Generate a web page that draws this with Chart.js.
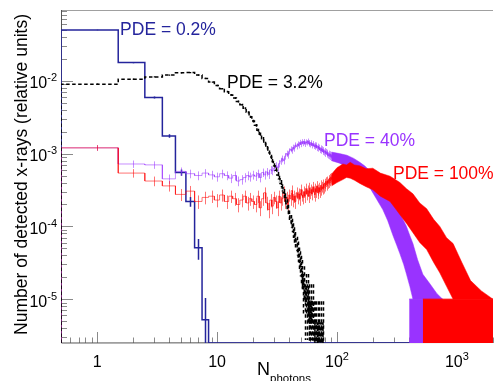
<!DOCTYPE html>
<html>
<head>
<meta charset="utf-8">
<script src="https://cdn.jsdelivr.net/npm/chart.js@4.4.1/dist/chart.umd.min.js"></script>
<style>
  html, body { margin: 0; padding: 0; background: #fff; }
  #wrap { width: 494px; height: 381px; }
</style>
</head>
<body>
<div id="wrap"><canvas id="spectrum"></canvas></div>
<script>
const FONT = '"Liberation Sans", Arial, Helvetica, sans-serif';
const X_MIN = 0.5, X_MAX = 2000;
const Y_MIN = 2.5e-6, Y_MAX = 0.094;

const BLUE = '#24249c';
const VIOLET = '#9933ff';
const RED = '#ff0000';

// decade labels, drawn as base + superscript
const xTickValues = [1, 10, 100, 1000];
const xTickBase = ['1', '10', '10', '10'];
const xTickExp = ['', '', '2', '3'];
const yTickValues = [1e-2, 1e-3, 1e-4, 1e-5];
const yTickBase = ['10', '10', '10', '10'];
const yTickExp = ['-2', '-3', '-4', '-5'];

// PDE = 0.2% : one bin per photon count starting at N = 1
const blueVals = [0.050, 0.0178, 0.0059, 0.00175, 5.5e-4, 2.2e-4, 5.1e-5, 5.2e-6];
const blueUnit = 5.2e-6;   // weight of a single entry

// PDE = 3.2% : N = 1 .. 76
const blackVals = [
  9.0e-3, 1.05e-2, 1.13e-2, 1.20e-2, 1.29e-2, 1.30e-2, 1.20e-2, 1.08e-2, 9.6e-3, 8.6e-3,
  7.8e-3, 7.1e-3, 6.4e-3, 5.8e-3, 5.2e-3, 4.7e-3, 4.2e-3, 3.7e-3, 3.2e-3, 2.8e-3,
  2.45e-3, 2.1e-3, 1.85e-3, 1.6e-3, 1.38e-3, 1.2e-3, 1.03e-3, 9.0e-4, 7.8e-4, 6.8e-4,
  5.9e-4, 5.1e-4, 4.5e-4, 3.9e-4, 3.4e-4, 2.9e-4, 2.5e-4, 2.05e-4, 1.7e-4, 1.4e-4,
  1.2e-4, 1.05e-4, 9.0e-5, 7.8e-5, 6.6e-5, 5.6e-5, 4.7e-5, 3.8e-5, 3.3e-5, 2.8e-5,
  2.4e-5, 1.4e-5, 1.9e-5, 9.4e-6, 1.4e-5, 9.4e-6, 1.4e-5, 4.7e-6, 9.4e-6, 4.7e-6,
  9.4e-6, 4.7e-6, 9.4e-6, 4.7e-6, 0, 4.7e-6, 4.7e-6, 0, 4.7e-6, 0,
  4.7e-6, 0, 0, 4.7e-6, 0, 4.7e-6
];
const blackUnit = 4.7e-6;

// PDE = 40% : single bins N = 1 .. 90, then the spread of the dense region
const violetVals = [
  1.2e-3, 7.2e-4, 7.0e-4, 4.5e-4, 5.7e-4, 5.3e-4, 5.0e-4, 5.4e-4, 5.1e-4, 4.8e-4,
  5.3e-4, 5.0e-4, 4.6e-4, 5.0e-4, 4.2e-4, 4.4e-4, 4.7e-4, 5.0e-4, 4.8e-4, 5.1e-4,
  4.9e-4, 5.3e-4, 4.7e-4, 5.5e-4, 5.1e-4, 5.6e-4, 5.2e-4, 6.0e-4, 5.8e-4, 6.3e-4,
  6.8e-4, 6.4e-4, 7.3e-4, 7.9e-4, 8.5e-4, 8.0e-4, 9.2e-4, 1.0e-3, 9.5e-4, 1.08e-3,
  1.15e-3, 1.1e-3, 1.22e-3, 1.17e-3, 1.31e-3, 1.25e-3, 1.36e-3, 1.29e-3, 1.43e-3, 1.34e-3,
  1.46e-3, 1.38e-3, 1.47e-3, 1.35e-3, 1.45e-3, 1.41e-3, 1.49e-3, 1.36e-3, 1.42e-3, 1.33e-3,
  1.41e-3, 1.29e-3, 1.37e-3, 1.27e-3, 1.32e-3, 1.24e-3, 1.31e-3, 1.19e-3, 1.26e-3, 1.17e-3,
  1.22e-3, 1.12e-3, 1.19e-3, 1.1e-3, 1.16e-3, 1.06e-3, 1.12e-3, 1.04e-3, 1.09e-3, 1.0e-3,
  1.06e-3, 9.8e-4, 1.03e-3, 9.5e-4, 1.0e-3, 9.3e-4, 9.8e-4, 9.1e-4, 9.5e-4, 8.9e-4
];
const violetUnit = 9.7e-6;
const violetBandN  = [90, 105, 121, 138, 155, 170, 188, 210, 241, 265, 293, 315, 335, 360, 380, 405, 430, 470, 520, 600, 680, 760];
const violetBandHi = [1.05e-3, 1.0e-3, 9.5e-4, 8.6e-4, 7.6e-4, 6.8e-4, 5.8e-4, 4.6e-4, 3.5e-4, 2.7e-4, 2.05e-4,
                      1.7e-4, 1.5e-4, 1.2e-4, 1.0e-4, 7.5e-5, 5.8e-5, 3.5e-5, 2.2e-5, 1.6e-5, 1.2e-5, 1.0e-5];
const violetBandLo = [8.0e-4, 7.4e-4, 6.6e-4, 5.8e-4, 5.0e-4, 4.2e-4, 3.4e-4, 2.5e-4, 1.7e-4, 1.2e-4, 7.5e-5,
                      5.5e-5, 4.2e-5, 3.0e-5, 2.2e-5, 1.5e-5, 1.0e-5, 1.0e-5, 1.0e-5, 1.0e-5, 1.0e-5, 1.0e-5];
const violetTailN = [400, 760];
const violetTailTop = [1.0e-5, 1.0e-5];

// PDE = 100%
const redVals = [
  1.2e-3, 5.4e-4, 4.2e-4, 3.6e-4, 2.75e-4, 3.05e-4, 2.2e-4, 2.5e-4, 2.6e-4, 2.3e-4,
  2.7e-4, 2.2e-4, 2.6e-4, 2.4e-4, 2.0e-4, 2.3e-4, 2.6e-4, 2.1e-4, 2.4e-4, 2.2e-4,
  2.0e-4, 2.6e-4, 1.8e-4, 2.4e-4, 2.9e-4, 2.1e-4, 1.7e-4, 2.3e-4, 1.9e-4, 2.5e-4,
  2.2e-4, 1.8e-4, 2.6e-4, 2.1e-4, 2.4e-4, 3.0e-4, 2.2e-4, 2.5e-4, 2.0e-4, 2.7e-4,
  2.4e-4, 3.1e-4, 2.3e-4, 2.6e-4, 2.2e-4, 2.9e-4, 2.5e-4, 2.8e-4, 2.4e-4, 3.2e-4,
  2.7e-4, 2.5e-4, 3.0e-4, 2.6e-4, 3.3e-4, 2.8e-4, 3.1e-4, 2.6e-4, 3.4e-4, 2.9e-4,
  3.2e-4, 2.8e-4, 3.5e-4, 3.0e-4, 2.7e-4, 3.3e-4, 3.0e-4, 3.6e-4, 2.9e-4, 3.2e-4,
  3.4e-4, 3.0e-4, 3.7e-4, 3.2e-4, 3.5e-4, 3.3e-4, 3.8e-4, 3.4e-4, 3.9e-4, 3.6e-4,
  4.1e-4, 3.7e-4, 4.2e-4, 3.9e-4, 4.4e-4, 4.0e-4, 4.6e-4, 4.2e-4, 4.7e-4, 4.4e-4
];
const redUnit = 9.7e-6;
const redBandN  = [90, 100, 112, 120, 129, 140, 155, 175, 199, 230, 277, 300, 335, 380, 430, 490, 560, 640, 720, 820, 930, 1100, 1300, 1600, 2000];
const redBandHi = [5.2e-4, 6.4e-4, 7.2e-4, 7.0e-4, 7.6e-4, 7.0e-4, 6.8e-4, 6.2e-4, 6.3e-4, 5.4e-4, 4.9e-4, 4.5e-4, 4.0e-4,
                   3.3e-4, 2.8e-4, 2.1e-4, 1.75e-4, 1.25e-4, 1.0e-4, 7.0e-5, 5.8e-5, 3.2e-5, 1.8e-5, 1.3e-5, 1.0e-5];
const redBandLo = [3.6e-4, 4.0e-4, 4.4e-4, 4.7e-4, 4.6e-4, 4.3e-4, 3.9e-4, 3.5e-4, 3.2e-4, 2.6e-4, 2.2e-4, 1.85e-4, 1.45e-4,
                   1.1e-4, 8.2e-5, 6.0e-5, 4.8e-5, 3.2e-5, 2.3e-5, 1.5e-5, 1.0e-5, 1.0e-5, 1.0e-5, 1.0e-5, 1.0e-5];
const redTailN = [520, 2000];
const redTailTop = [1.0e-5, 1.0e-5];

const annotations = [
  { text: 'PDE = 0.2%', color: BLUE,   x: 1.555, y: 0.0427 },
  { text: 'PDE = 3.2%', color: '#000', x: 12.1,  y: 8.0e-3 },
  { text: 'PDE = 40%',  color: VIOLET, x: 78,    y: 1.29e-3 },
  { text: 'PDE = 100%', color: RED,    x: 293,   y: 4.55e-4 }
];

// histogram outline: bins of unit width centred on integers, empty bins sit on the axis
function binSteps(vals, closeTo) {
  const pts = [{ x: 0.5, y: Y_MIN }];
  vals.forEach((v, i) => {
    const y = v > 0 ? v : Y_MIN;
    pts.push({ x: i + 0.5, y: y }, { x: i + 1.5, y: y });
  });
  if (closeTo) {
    pts.push({ x: vals.length + 0.5, y: Y_MIN }, { x: closeTo, y: Y_MIN });
  }
  return pts;
}

function curve(ns, vals) {
  return ns.map((n, i) => ({ x: n, y: vals[i] }));
}

const line = { showLine: true, pointRadius: 0, pointHoverRadius: 0, tension: 0 };

const datasets = [
  Object.assign({}, line, { data: curve(violetBandN, violetBandHi), fill: '+1',
    backgroundColor: VIOLET, borderColor: 'rgba(153,51,255,0.5)', borderWidth: 1, order: 6 }),
  Object.assign({}, line, { data: curve(violetBandN, violetBandLo), fill: false,
    borderColor: 'rgba(153,51,255,0.5)', borderWidth: 1, order: 6 }),
  Object.assign({}, line, { data: curve(violetTailN, violetTailTop), fill: 'start',
    backgroundColor: VIOLET, borderColor: VIOLET, borderWidth: 1, order: 6 }),
  Object.assign({}, line, { data: binSteps(violetVals), fill: false,
    borderColor: 'rgba(153,51,255,0.55)', borderWidth: 1, order: 5,
    errBins: { vals: violetVals, unit: violetUnit } }),

  Object.assign({}, line, { data: curve(redBandN, redBandHi), fill: '+1',
    backgroundColor: RED, borderColor: 'rgba(255,0,0,0.5)', borderWidth: 1, order: 4 }),
  Object.assign({}, line, { data: curve(redBandN, redBandLo), fill: false,
    borderColor: 'rgba(255,0,0,0.5)', borderWidth: 1, order: 4 }),
  Object.assign({}, line, { data: curve(redTailN, redTailTop), fill: 'start',
    backgroundColor: RED, borderColor: RED, borderWidth: 1, order: 4 }),
  Object.assign({}, line, { data: binSteps(redVals), fill: false,
    borderColor: 'rgba(255,0,0,0.55)', borderWidth: 1, order: 3,
    errBins: { vals: redVals, unit: redUnit } }),

  Object.assign({}, line, { data: binSteps(blackVals, blackVals.length + 0.5), fill: false,
    borderColor: '#000', borderWidth: 1.5, borderDash: [3.5, 2.5], order: 2,
    errBins: { vals: blackVals, unit: blackUnit } }),

  Object.assign({}, line, { data: binSteps(blueVals, X_MAX), fill: false,
    borderColor: BLUE, borderWidth: 1.5, order: 7,
    errBins: { vals: blueVals, unit: blueUnit } })
];

// statistical error bars at the bin centres
const errorBars = {
  id: 'errorBars',
  afterDatasetDraw(chart, args) {
    const ds = chart.data.datasets[args.index];
    if (!ds.errBins) return;
    const xs = chart.scales.x, ys = chart.scales.y, area = chart.chartArea;
    const ctx = chart.ctx;
    ctx.save();
    ctx.beginPath();
    ctx.rect(area.left, area.top, area.right - area.left, area.bottom - area.top);
    ctx.clip();
    ctx.strokeStyle = ds.borderColor;
    ctx.lineWidth = ds.borderWidth;
    ctx.setLineDash(ds.borderDash || []);
    ctx.beginPath();
    ds.errBins.vals.forEach((v, i) => {
      if (v <= 0) return;
      const err = Math.sqrt(v * ds.errBins.unit);
      const px = Math.round(xs.getPixelForValue(i + 1)) + 0.5;
      const top = ys.getPixelForValue(v + err);
      const bot = v - err > Y_MIN ? ys.getPixelForValue(v - err) : area.bottom;
      ctx.moveTo(px, top);
      ctx.lineTo(px, bot);
    });
    ctx.stroke();
    ctx.restore();
  }
};

function logTicks(min, max) {
  const out = [];
  for (let d = Math.floor(Math.log10(min)); d <= Math.ceil(Math.log10(max)); d++) {
    for (let m = 1; m <= 9; m++) {
      const v = m * Math.pow(10, d);
      if (v >= min && v <= max) out.push({ v: v, major: m === 1 });
    }
  }
  return out;
}

// frame and inward ticks
const frame = {
  id: 'frame',
  beforeDatasetsDraw(chart) {
    const ctx = chart.ctx, a = chart.chartArea;
    const xs = chart.scales.x, ys = chart.scales.y;
    ctx.save();
    ctx.lineWidth = 1;
    ctx.strokeStyle = '#8a8a8a';
    ctx.beginPath();
    logTicks(X_MIN, X_MAX).forEach(t => {
      const px = Math.round(xs.getPixelForValue(t.v)) + 0.5;
      ctx.moveTo(px, a.bottom);
      ctx.lineTo(px, a.bottom - (t.major ? 11 : 5.5));
    });
    logTicks(Y_MIN, Y_MAX).forEach(t => {
      const py = Math.round(ys.getPixelForValue(t.v)) + 0.5;
      ctx.moveTo(a.left, py);
      ctx.lineTo(a.left + (t.major ? 12 : 6), py);
    });
    ctx.stroke();
    ctx.strokeStyle = '#a0a0a0';
    ctx.beginPath();
    ctx.moveTo(a.left, a.top + 0.5);
    ctx.lineTo(a.right, a.top + 0.5);
    ctx.stroke();
    ctx.strokeStyle = '#555';
    ctx.beginPath();
    ctx.moveTo(a.left + 0.5, a.top);
    ctx.lineTo(a.left + 0.5, a.bottom);
    ctx.lineTo(a.right, a.bottom - 0.5);
    ctx.stroke();
    ctx.restore();
  }
};

// decade labels, axis titles and curve labels
const texts = {
  id: 'texts',
  afterDraw(chart) {
    const ctx = chart.ctx, a = chart.chartArea;
    const xs = chart.scales.x, ys = chart.scales.y;
    ctx.save();
    ctx.fillStyle = '#000';
    ctx.textAlign = 'left';
    ctx.textBaseline = 'alphabetic';

    const baseFont = '16px ' + FONT, expFont = '11px ' + FONT;
    xTickValues.forEach((v, i) => {
      ctx.font = baseFont;
      const wb = ctx.measureText(xTickBase[i]).width;
      ctx.font = expFont;
      const we = xTickExp[i] ? ctx.measureText(xTickExp[i]).width : 0;
      const left = xs.getPixelForValue(v) - (wb + we) / 2;
      ctx.font = baseFont;
      ctx.fillText(xTickBase[i], left, a.bottom + 24);
      if (we) {
        ctx.font = expFont;
        ctx.fillText(xTickExp[i], left + wb, a.bottom + 16.5);
      }
    });
    yTickValues.forEach((v, i) => {
      const py = ys.getPixelForValue(v);
      ctx.font = expFont;
      const we = ctx.measureText(yTickExp[i]).width;
      ctx.font = baseFont;
      const wb = ctx.measureText(yTickBase[i]).width;
      const right = a.left - 4;
      ctx.fillText(yTickBase[i], right - we - wb, py + 7.5);
      ctx.font = expFont;
      ctx.fillText(yTickExp[i], right - we, py + 0.5);
    });

    // x title with subscript
    ctx.font = '18px ' + FONT;
    const tx = a.left + 196;
    ctx.fillText('N', tx, a.bottom + 32);
    const wn = ctx.measureText('N').width;
    ctx.font = '11.5px ' + FONT;
    ctx.fillText('photons', tx + wn, a.bottom + 39);

    // y title
    ctx.save();
    ctx.translate(27, (a.top + a.bottom) / 2 - 2);
    ctx.rotate(-Math.PI / 2);
    ctx.textAlign = 'center';
    ctx.font = '17.5px ' + FONT;
    ctx.fillText('Number of detected x-rays (relative units)', 0, 0);
    ctx.restore();

    ctx.font = '17.5px ' + FONT;
    annotations.forEach(t => {
      ctx.fillStyle = t.color;
      ctx.fillText(t.text, xs.getPixelForValue(t.x), ys.getPixelForValue(t.y));
    });
    ctx.restore();
  }
};

new Chart(document.getElementById('spectrum').getContext('2d'), {
  type: 'scatter',
  data: { datasets: datasets },
  options: {
    responsive: true,
    maintainAspectRatio: false,
    animation: false,
    devicePixelRatio: 1,
    layout: { padding: { top: 10, right: 1, left: 0, bottom: 0 } },
    plugins: { legend: { display: false }, tooltip: { enabled: false } },
    scales: {
      x: {
        type: 'logarithmic', min: X_MIN, max: X_MAX,
        grid: { display: false }, border: { display: false }, ticks: { display: false },
        afterFit(scale) { scale.height = 38; }
      },
      y: {
        type: 'logarithmic', min: Y_MIN, max: Y_MAX,
        grid: { display: false }, border: { display: false }, ticks: { display: false },
        afterFit(scale) { scale.width = 61; }
      }
    }
  },
  plugins: [frame, errorBars, texts]
});
</script>
</body>
</html>
